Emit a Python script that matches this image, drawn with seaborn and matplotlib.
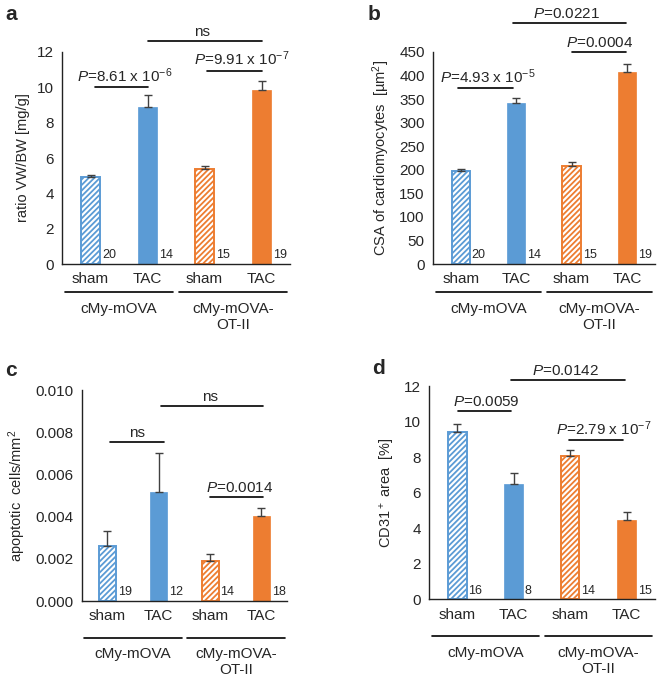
import matplotlib
matplotlib.use('Agg')
import matplotlib.pyplot as plt
import seaborn as sns
import pandas as pd

conditions = ['sham', 'TAC', 'sham', 'TAC']
groups = ['cMy-mOVA', 'cMy-mOVA-\nOT-II']
strains = ['cMy-mOVA', 'cMy-mOVA', 'OT-II', 'OT-II']

vw_bw = [4.94, 8.89, 5.37, 9.87]
vw_bw_err = [0.09, 0.66, 0.19, 0.47]
vw_bw_n = [20, 14, 15, 19]

csa = [197.7, 342.0, 208.0, 408.0]
csa_err = [3.0, 10.0, 9.0, 16.0]
csa_n = [20, 14, 15, 19]

apoptotic = [0.00259, 0.00518, 0.00191, 0.00401]
apoptotic_err = [0.00073, 0.00182, 0.00030, 0.00041]
apoptotic_n = [19, 12, 14, 18]

cd31 = [9.42, 6.50, 8.10, 4.46]
cd31_err = [0.49, 0.64, 0.34, 0.44]
cd31_n = [16, 8, 14, 15]

BLUE = '#5B9BD5'
ORANGE = '#ED7D31'

sns.set_style('white')
plt.rcParams['font.family'] = ['Liberation Sans', 'DejaVu Sans']
plt.rcParams['mathtext.fontset'] = 'custom'
plt.rcParams['mathtext.rm'] = 'Liberation Sans'
plt.rcParams['mathtext.it'] = 'Liberation Sans:italic'
plt.rcParams['hatch.linewidth'] = 1.3


def draw_panel(ax, values, errs, ns, ylabel, yticks, fmt, brackets, under_y):
    df = pd.DataFrame({'cond': [f'{c}{i}' for i, c in enumerate(conditions)],
                       'value': values, 'strain': strains})
    sns.barplot(data=df, x='cond', y='value', hue='strain', palette=[BLUE, ORANGE],
                width=0.33, dodge=False, legend=False, errorbar=None, ax=ax, saturation=1)
    for i, p in enumerate(ax.patches[:4]):
        col = BLUE if i < 2 else ORANGE
        if conditions[i] == 'sham':
            p.set_facecolor('white')
            p.set_edgecolor(col)
            p.set_hatch('//////')
            p.set_linewidth(1.4)
        else:
            p.set_edgecolor(col)
            p.set_linewidth(0.5)
    ax.errorbar(range(4), values, yerr=[[0] * 4, errs], fmt='none', ecolor='#404040',
                elinewidth=1.0, capsize=3, capthick=1.0)
    ax.set_xlim(-0.5, 3.5)
    ax.set_ylim(yticks[0], yticks[-1])
    ax.set_yticks(yticks)
    ax.set_yticklabels([fmt.format(t) for t in yticks])
    ax.set_xticks(range(4))
    ax.set_xticklabels(conditions)
    ax.set_xticks([-0.5, 0.5, 1.5, 2.5, 3.5], minor=True)
    ax.tick_params(axis='x', which='major', length=0, labelsize=11, pad=6)
    ax.tick_params(axis='x', which='minor', length=4, width=1, direction='out', color='#222222')
    ax.tick_params(axis='y', length=4, width=1, direction='out', color='#222222', labelsize=11, pad=2)
    ax.set_xlabel('')
    ax.set_ylabel(ylabel, fontsize=10.5, labelpad=5)
    sns.despine(ax=ax)
    for s in ['left', 'bottom']:
        ax.spines[s].set_color('#222222')
        ax.spines[s].set_linewidth(1.0)
    for i, n in enumerate(ns):
        ax.text(i + 0.2, 0.012, str(n), transform=ax.get_xaxis_transform(), fontsize=9,
                ha='left', va='bottom')
    for x1, x2, y, txt, tx in brackets:
        ax.plot([x1, x2], [y, y], color='black', lw=1.2, clip_on=False)
        ax.annotate(txt, (tx, y), xytext=(0, 1.5), textcoords='offset points',
                    ha='center', va='bottom', fontsize=11, annotation_clip=False)
    tr = ax.get_xaxis_transform()
    line_y, text_y = under_y
    for k, g in enumerate(groups):
        xs = [-0.45 + 2 * k, 1.45 + 2 * k]
        ax.plot(xs, [line_y, line_y], color='black', lw=1.2, transform=tr, clip_on=False)
        ax.text(0.5 + 2 * k, text_y, g, transform=tr, ha='center', va='top',
                fontsize=11, linespacing=1.15)


fig = plt.figure(figsize=(6.6, 6.84), dpi=100)
ax_a = fig.add_axes([0.094, 0.614, 0.3455, 0.310])
ax_b = fig.add_axes([0.656, 0.614, 0.336, 0.310])
ax_c = fig.add_axes([0.124, 0.1213, 0.311, 0.3085])
ax_d = fig.add_axes([0.650, 0.124, 0.342, 0.311])

draw_panel(ax_a, vw_bw, vw_bw_err, vw_bw_n, 'ratio VW/BW [mg/g]', list(range(0, 13, 2)), '{:g}',
           [(0.08, 1.0, 10.0, '$P$=8.61 x 10$^{-6}$', 0.6),
            (1.0, 3.0, 12.64, 'ns', 1.95),
            (2.04, 3.0, 10.95, '$P$=9.91 x 10$^{-7}$', 2.65)],
           (-0.132, -0.18))
draw_panel(ax_b, csa, csa_err, csa_n, 'CSA of cardiomyocytes  [µm$^2$]', list(range(0, 451, 50)), '{:g}',
           [(-0.05, 0.95, 373, '$P$=4.93 x 10$^{-5}$', 0.49),
            (0.95, 2.99, 512, '$P$=0.0221', 1.91),
            (2.0, 2.99, 450, '$P$=0.0004', 2.5)],
           (-0.132, -0.18))
draw_panel(ax_c, apoptotic, apoptotic_err, apoptotic_n, 'apoptotic  cells/mm$^2$',
           [0.0, 0.002, 0.004, 0.006, 0.008, 0.010], '{:.3f}',
           [(0.05, 1.1, 0.00752, 'ns', 0.57),
            (1.05, 3.04, 0.00926, 'ns', 2.0),
            (2.0, 3.04, 0.00491, '$P$=0.0014', 2.58)],
           (-0.175, -0.22))
draw_panel(ax_d, cd31, cd31_err, cd31_n, 'CD31$^+$ area  [%]', list(range(0, 13, 2)), '{:g}',
           [(0.01, 0.95, 10.6, '$P$=0.0059', 0.52),
            (0.95, 2.97, 12.38, '$P$=0.0142', 1.91),
            (1.98, 2.94, 9.0, '$P$=2.79 x 10$^{-7}$', 2.59)],
           (-0.175, -0.22))

for lab, x, y in [('a', 5, 15), ('b', 368, 15), ('c', 5, 370), ('d', 372, 369)]:
    fig.text(x / 660, 1 - y / 684, lab, fontsize=15, fontweight='bold', ha='left', va='center')

fig.savefig('out.png', dpi=100)
